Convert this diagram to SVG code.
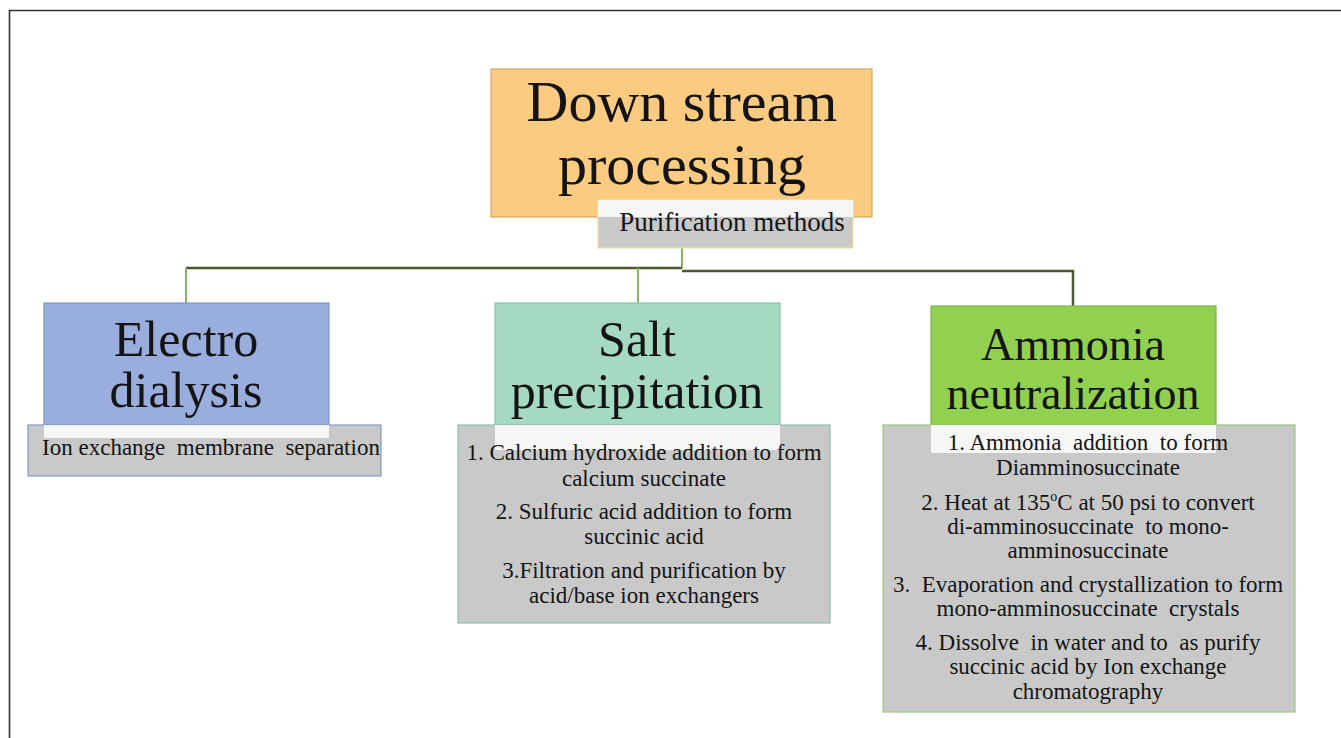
<svg xmlns="http://www.w3.org/2000/svg" width="1341" height="738" viewBox="0 0 1341 738">
<style>
.t{font-family:"Liberation Serif","Times New Roman",serif;fill:#141414;text-anchor:middle}
.big{font-size:58px}
.h{font-size:50px}
.s{font-size:23px;white-space:pre}
.sub{fill:#C9C9C9}
.hl{fill:#FAFAF7;opacity:0.92}
.dk{stroke:#4B5A2E;stroke-width:2.5;fill:none}
.lt{stroke:#8DB35A;stroke-width:2;fill:none}
</style>
<rect x="0" y="0" width="1341" height="738" fill="#FFFFFF"/>
<path d="M9.5 738 V10.5 H1341" fill="none" stroke="#333333" stroke-width="1.6"/>
<g id="connectors">
<path class="lt" d="M682 248 V268"/>
<path class="dk" d="M186 268 H682"/>
<path class="dk" d="M682 271 H1073 V306"/>
<path class="lt" d="M186 268 V303"/>
<path class="lt" d="M638 268 V303"/>
</g>
<g id="node-downstream">
<rect x="491" y="69" width="381" height="148" fill="#FACB80" stroke="#D2A865" stroke-width="1.2"/>
<text class="t big" x="682" y="121">Down stream</text>
<text class="t big" x="682" y="184">processing</text>
</g>
<g id="node-purification">
<rect class="sub" x="598" y="200" width="255" height="48" stroke="#F2E3A6" stroke-width="1.2"/>
<rect class="hl" x="598" y="200" width="255" height="17"/>
<text class="t" x="732" y="231" style="font-size:27px">Purification methods</text>
</g>
<g id="node-electrodialysis">
<rect x="44" y="303" width="285" height="122" fill="#99AEDD" stroke="#7F93C3" stroke-width="1.2"/>
<text class="t h" x="186" y="356">Electro</text>
<text class="t h" x="186" y="407">dialysis</text>
<rect class="sub" x="28" y="425" width="353" height="51" stroke="#8898C8" stroke-width="1.2"/>
<rect class="hl" x="44" y="425" width="285" height="13"/>
<text class="t s" x="211" y="455">Ion exchange  membrane  separation</text>
</g>
<g id="node-salt">
<rect x="495" y="303" width="285" height="122" fill="#A5D9C2" stroke="#8CBFA7" stroke-width="1.2"/>
<text class="t h" x="637" y="356">Salt</text>
<text class="t h" x="637" y="408">precipitation</text>
<rect class="sub" x="458" y="425" width="372" height="198" stroke="#8DC0A6" stroke-width="1.2"/>
<rect class="hl" x="495" y="425" width="285" height="25"/>
<text class="t s" x="644" y="460">1. Calcium hydroxide addition to form</text>
<text class="t s" x="644" y="486">calcium succinate</text>
<text class="t s" x="644" y="519">2. Sulfuric acid addition to form</text>
<text class="t s" x="644" y="544">succinic acid</text>
<text class="t s" x="644" y="578">3.Filtration and purification by</text>
<text class="t s" x="644" y="603">acid/base ion exchangers</text>
</g>
<g id="node-ammonia">
<rect x="931" y="306" width="285" height="119" fill="#92D050" stroke="#7DB548" stroke-width="1.2"/>
<text class="t" x="1073" y="360" style="font-size:46px">Ammonia</text>
<text class="t" x="1073" y="409" style="font-size:46px">neutralization</text>
<rect class="sub" x="883" y="425" width="412" height="287" stroke="#9CC87C" stroke-width="1.2"/>
<rect class="hl" x="931" y="425" width="285" height="28"/>
<text class="t s" x="1088" y="450">1. Ammonia  addition  to form</text>
<text class="t s" x="1088" y="475">Diamminosuccinate</text>
<text class="t s" x="1088" y="510">2. Heat at 135<tspan style="font-size:14px" dy="-9">o</tspan><tspan dy="9">C at 50 psi to convert</tspan></text>
<text class="t s" x="1088" y="534">di-amminosuccinate  to mono-</text>
<text class="t s" x="1088" y="558">amminosuccinate</text>
<text class="t s" x="1088" y="592">3.  Evaporation and crystallization to form</text>
<text class="t s" x="1088" y="616">mono-amminosuccinate  crystals</text>
<text class="t s" x="1088" y="650">4. Dissolve  in water and to  as purify</text>
<text class="t s" x="1088" y="674">succinic acid by Ion exchange</text>
<text class="t s" x="1088" y="699">chromatography</text>
</g>
</svg>
